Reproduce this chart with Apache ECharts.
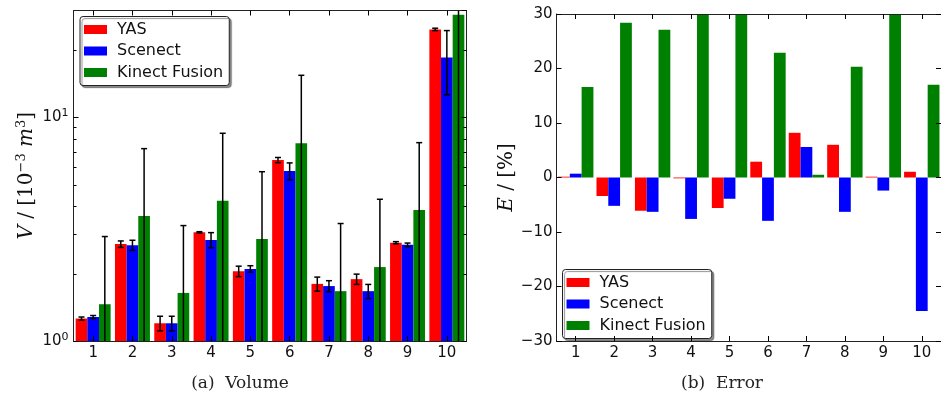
<!DOCTYPE html>
<html>
<head>
<meta charset="utf-8">
<script src="https://cdn.jsdelivr.net/npm/echarts@6/dist/echarts.min.js"></script>
<style>
html, body { margin: 0; padding: 0; background: #fff; }
#main { width: 941px; height: 397px; }
</style>
</head>
<body>
<div id="main"></div>
<script>
// scene numbers
const categories = ['1', '2', '3', '4', '5', '6', '7', '8', '9', '10'];

// (a) volume, 10^-3 m^3, with error half-widths
const volYAS = [1.26, 2.71, 1.20, 3.06, 2.05, 6.44, 1.80, 1.89, 2.75, 24.7];
const volYASErr = [0.02, 0.09, 0.09, 0.02, 0.11, 0.17, 0.13, 0.10, 0.03, 0.3];
const volScenect = [1.28, 2.68, 1.20, 2.83, 2.10, 5.75, 1.76, 1.67, 2.69, 18.5];
const volScenectErr = [0.02, 0.14, 0.09, 0.22, 0.07, 0.50, 0.10, 0.12, 0.05, 5.9];
const volKinect = [1.46, 3.62, 1.64, 4.23, 2.86, 7.65, 1.67, 2.14, 3.85, 28.7];
const volKinectErr = [1.47, 3.62, 1.64, 4.25, 2.85, 7.75, 1.68, 2.16, 3.85, 28.0];

// (b) error in percent (Kinect Fusion goes past 30 for 4, 5, 9)
const errYAS = [0.15, -3.4, -6.1, -0.15, -5.6, 2.9, 8.2, 6.0, 0.15, 1.05];
const errScenect = [0.7, -5.2, -6.3, -7.6, -3.9, -7.95, 5.6, -6.3, -2.4, -24.5];
const errKinect = [16.6, 28.4, 27.1, 31, 31, 22.9, 0.5, 20.3, 31, 17.0];

// axis ranges / ticks
const volRange = [1, 30];
const volMinorTicks = [2, 3, 4, 5, 6, 7, 8, 9, 20];
const errRange = [-30, 30];
const errStep = 10;

const names = ['YAS', 'Scenect', 'Kinect Fusion'];
const colors = ['#ff0000', '#0000ff', '#008000'];

const SANS = 'DejaVu Sans';
const SERIF = 'DejaVu Serif';
const GAP_A = 0.11;
const GAP_B = 0.08;

const chart = echarts.init(document.getElementById('main'));

function frameAxis(grid, extra) {
    return Object.assign({
        gridIndex: grid,
        z: 10,
        axisLine: { show: true, onZero: false, lineStyle: { color: '#222', width: 1 } },
        axisTick: { show: true, inside: true, length: 5, lineStyle: { color: '#000' } },
        splitLine: { show: false },
        axisLabel: { show: false }
    }, extra);
}

const tickLabel = { color: '#111', fontFamily: SANS, fontSize: 15 };

function errorBars(idx, values, errs) {
    return {
        type: 'custom',
        name: names[idx] + ' err',
        xAxisIndex: 0,
        yAxisIndex: 0,
        silent: true,
        z: 6,
        data: values.map((v, i) => [i, v, errs[i]]),
        renderItem: function (params, api) {
            const i = api.value(0), v = api.value(1), e = api.value(2);
            const cs = params.coordSys;
            const band = cs.width / categories.length;
            const bw = band * (1 - GAP_A) / 3;
            const x = api.coord([i, v])[0] + (idx - 1) * bw;
            const hi = v + e, lo = v - e;
            const yHi = hi >= volRange[1] ? cs.y : api.coord([i, hi])[1];
            const yLo = lo <= volRange[0] ? cs.y + cs.height : api.coord([i, lo])[1];
            const st = { stroke: '#000', lineWidth: 1.5 };
            const kids = [{ type: 'line', shape: { x1: x, y1: yHi, x2: x, y2: yLo }, style: st }];
            if (hi < volRange[1]) kids.push({ type: 'line', shape: { x1: x - 3, y1: yHi, x2: x + 3, y2: yHi }, style: st });
            if (lo > volRange[0]) kids.push({ type: 'line', shape: { x1: x - 3, y1: yLo, x2: x + 3, y2: yLo }, style: st });
            return { type: 'group', children: kids };
        }
    };
}

const legendBase = {
    orient: 'vertical',
    selectedMode: false,
    icon: 'rect',
    itemWidth: 23,
    itemHeight: 9,
    itemGap: 5.5,
    padding: [5, 6, 5, 4],
    backgroundColor: '#fff',
    borderColor: '#222',
    borderWidth: 1,
    borderRadius: 3,
    shadowColor: 'rgba(0,0,0,0.45)',
    shadowOffsetX: 2,
    shadowOffsetY: 2,
    shadowBlur: 1,
    textStyle: { color: '#111', fontFamily: SANS, fontSize: 16, lineHeight: 16, padding: [0, 0, 0, 5] },
    data: names
};

const option = {
    animation: false,
    backgroundColor: '#fff',
    grid: [
        { left: 73.5, top: 10.5, width: 393, height: 330.5 },
        { left: 556.5, top: 14, width: 391, height: 327 }
    ],
    legend: [
        Object.assign({ left: 80, top: 16.5 }, legendBase),
        Object.assign({ left: 562.5, top: 269.5 }, legendBase)
    ],
    xAxis: [
        frameAxis(0, {
            type: 'category', data: categories, position: 'bottom',
            axisTick: { show: true, inside: true, length: 5, alignWithLabel: true, lineStyle: { color: '#000' } },
            axisLabel: Object.assign({ show: true, margin: 5 }, tickLabel)
        }),
        frameAxis(0, {
            type: 'category', data: categories, position: 'top',
            axisTick: { show: true, inside: true, length: 5, alignWithLabel: true, lineStyle: { color: '#000' } }
        }),
        frameAxis(1, {
            type: 'category', data: categories, position: 'bottom',
            axisTick: { show: true, inside: true, length: 5, alignWithLabel: true, lineStyle: { color: '#000' } },
            axisLabel: Object.assign({ show: true, margin: 5 }, tickLabel)
        }),
        frameAxis(1, {
            type: 'category', data: categories, position: 'top',
            axisTick: { show: true, inside: true, length: 5, alignWithLabel: true, lineStyle: { color: '#000' } }
        })
    ],
    yAxis: [
        frameAxis(0, {
            type: 'log', logBase: 10, min: volRange[0], max: volRange[1], position: 'left',
            name: '{i|V} / [10{s|\u22123} {i|m}{s|3}]',
            nameLocation: 'middle',
            nameGap: 36,
            nameRotate: 90,
            nameTextStyle: {
                color: '#111', fontFamily: SERIF, fontSize: 20,
                rich: {
                    i: { fontFamily: SERIF, fontStyle: 'italic', fontSize: 20, color: '#111' },
                    s: { fontFamily: SERIF, fontSize: 13, color: '#111', verticalAlign: 'top', padding: [0, 0, 9, 0] }
                }
            },
            axisLabel: Object.assign({
                show: true, margin: 5, showMaxLabel: false,
                formatter: function (v) {
                    const p = Math.log10(v);
                    if (Math.abs(p - Math.round(p)) > 1e-6) return '';
                    return '{b|10}{s|' + Math.round(p) + '}';
                },
                rich: {
                    b: { fontFamily: SANS, fontSize: 15, color: '#111' },
                    s: { fontFamily: SANS, fontSize: 11, color: '#111', verticalAlign: 'top', padding: [0, 0, 8, 0] }
                }
            }, tickLabel)
        }),
        frameAxis(0, {
            type: 'log', logBase: 10, min: volRange[0], max: volRange[1], position: 'right'
        }),
        frameAxis(1, {
            type: 'value', min: errRange[0], max: errRange[1], interval: errStep, position: 'left',
            name: '{i|E} / [%]',
            nameLocation: 'middle',
            nameGap: 38,
            nameRotate: 90,
            nameTextStyle: {
                color: '#111', fontFamily: SERIF, fontSize: 20,
                rich: { i: { fontFamily: SERIF, fontStyle: 'italic', fontSize: 20, color: '#111' } }
            },
            axisLabel: Object.assign({
                show: true, margin: 4,
                formatter: v => String(v).replace('-', '\u2212')
            }, tickLabel)
        }),
        frameAxis(1, {
            type: 'value', min: errRange[0], max: errRange[1], interval: errStep, position: 'right'
        })
    ],
    graphic: [
        { type: 'text', x: 240, y: 384, style: { text: '(a)  Volume', fontFamily: SERIF, fontSize: 17, fill: '#222', align: 'center', verticalAlign: 'middle' } },
        { type: 'text', x: 722, y: 384, style: { text: '(b)  Error', fontFamily: SERIF, fontSize: 17, fill: '#222', align: 'center', verticalAlign: 'middle' } }
    ],
    series: []
};

const volData = [volYAS, volScenect, volKinect];
const volErr = [volYASErr, volScenectErr, volKinectErr];
const errData = [errYAS, errScenect, errKinect];

names.forEach((n, k) => {
    option.series.push({
        type: 'bar', name: n, xAxisIndex: 0, yAxisIndex: 0,
        data: volData[k], barGap: 0, barCategoryGap: (GAP_A * 100) + '%',
        itemStyle: { color: colors[k] }, silent: true, clip: true
    });
});
names.forEach((n, k) => {
    option.series.push({
        type: 'bar', name: n, xAxisIndex: 2, yAxisIndex: 2,
        data: errData[k], barGap: 0, barCategoryGap: (GAP_B * 100) + '%',
        itemStyle: { color: colors[k] }, silent: true, clip: true
    });
});
names.forEach((n, k) => option.series.push(errorBars(k, volData[k], volErr[k])));

// minor log ticks on both sides of panel (a)
option.series.push({
    type: 'custom', name: 'minor', xAxisIndex: 0, yAxisIndex: 0, silent: true, z: 11,
    data: volMinorTicks.map(v => [0, v]),
    renderItem: function (params, api) {
        const cs = params.coordSys;
        const y = Math.round(api.coord([0, api.value(1)])[1]) + 0.5;
        const st = { stroke: '#000', lineWidth: 1 };
        return {
            type: 'group', children: [
                { type: 'line', shape: { x1: cs.x, y1: y, x2: cs.x + 3, y2: y }, style: st },
                { type: 'line', shape: { x1: cs.x + cs.width - 3, y1: y, x2: cs.x + cs.width, y2: y }, style: st }
            ]
        };
    }
});

chart.setOption(option);
</script>
</body>
</html>
